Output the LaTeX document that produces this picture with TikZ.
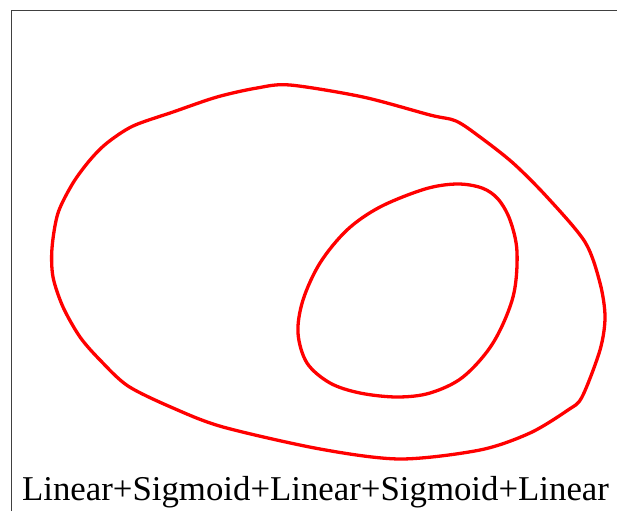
\documentclass[tikz,border=0pt]{standalone}
\usepackage{fontspec}
\setmainfont{Liberation Serif}
\usepackage{tikz}
\usetikzlibrary{positioning}

\begin{document}
\begin{tikzpicture}[
      x=1pt,y=-1pt,
      frameline/.style={draw=black!75,line width=0.9pt},
      region/.style={draw=red,line width=3.3pt,line join=round},
      caption/.style={font=\fontsize{34.8}{40}\selectfont,inner sep=0pt,anchor=base}]
    \useasboundingbox (0,0) rectangle (617,511);
    \coordinate (TL) at (11.5,10.5);
    \draw[frameline] (11.5,511) -- (TL) -- (617,10.5);
    % outer region
    \draw[region] plot[smooth cycle,tension=0.5] coordinates {
      (290,85) (363,97) (430,115) (456,121) (480,137) (513,163) (547,197)
      (585,242) (600,283) (605,317) (600,350) (582,397) (568,410)
      (530,433) (480,450) (400,459) (320,449) (223,427) (173,408)
      (128,386) (100,360) (80,337) (63,307) (53,277) (52,248) (58,213)
      (73,183) (90,160) (107,143) (133,126) (173,112) (217,97) (257,88)};
    % inner region
    \draw[region] plot[smooth cycle,tension=0.55] coordinates {
      (457,184) (482,188) (498,199) (510,220) (517,252) (513,297)
      (493,343) (463,377) (430,393) (397,397) (360,393) (330,383)
      (307,363) (298,333) (303,300) (320,263) (347,230) (380,207) (425,189)};
    \node[caption] (lbl) at (315.5,500) {Linear+Sigmoid+Linear+Sigmoid+Linear};
  \end{tikzpicture}
\end{document}
